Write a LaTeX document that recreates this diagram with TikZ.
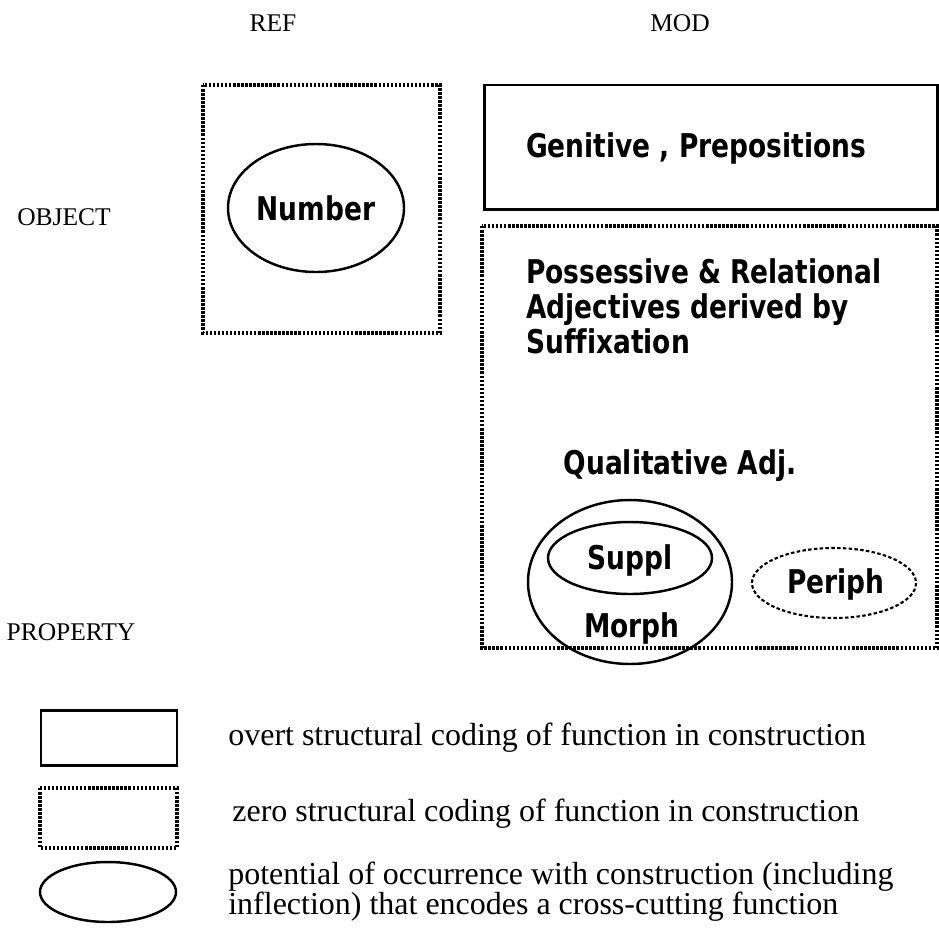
\documentclass[tikz,border=0pt]{standalone}
\usepackage{fontspec}
\setmainfont{Liberation Serif}
\newfontfamily\boldsans[FakeStretch=0.81, Ligatures=NoCommon]{DejaVu Sans}
\usetikzlibrary{positioning}

\tikzset{
  overt/.style={draw, line width=1.7pt},
  zero/.style={draw, line width=2pt, dash pattern=on 1.4pt off 0.9pt},
  potential/.style={draw, line width=1.4pt},
  periphery/.style={draw, line width=1.2pt, dash pattern=on 2pt off 1.3pt},
  cat/.style={font=\boldsans\bfseries\fontsize{18.6}{20}\selectfont},
  axis/.style={font=\fontsize{14.5}{17}\selectfont},
  legend/.style={font=\fontsize{18.2}{17}\selectfont, anchor=west, align=left, inner sep=0pt},
}

\begin{document}
\begin{tikzpicture}[x=0.02cm, y=-0.02cm]
\useasboundingbox (0,0) rectangle (939,927);

          % column and row heads
          \node[axis] (ref) at (273,23) {REF};
          \node[axis] (mod) at (680,23) {MOD};
          \node[axis] (object) at (64,217) {OBJECT};
          \node[axis] (property) at (71,632) {PROPERTY};

          % REF column
          \draw[zero] (203,85) rectangle (440,333);
          \draw[potential] (316,208) ellipse [x radius=88, y radius=64];
          \node[cat] (number) at (316,208) {Number};

          % MOD column
          \draw[overt] (484,85) rectangle (937,209);
          \node[cat, anchor=west] (genitive) at (520,148) {Genitive , Prepositions};
          \draw[zero] (482,226) rectangle (937,648);
          \node[cat, anchor=west, align=left] (possessive) at (520,306)
            {Possessive \& Relational\\Adjectives derived by\\Suffixation};
          \node[cat] (qualitative) at (680,466) {Qualitative Adj.};
          \draw[potential] (630,582) ellipse [x radius=102, y radius=82];
          \draw[potential] (630,558) ellipse [x radius=82, y radius=36];
          \node[cat] (suppl) at (630,560) {Suppl};
          \node[cat] (morph) at (632,628) {Morph};
          \draw[periphery] (834,583) ellipse [x radius=82, y radius=35];
          \node[cat] (periph) at (836,584) {Periph};

          % legend
          \draw[overt] (41,710) rectangle (177,765);
          \node[legend] (overtcode) at (228,738) {overt structural coding of function in construction};
          \draw[zero] (40,788) rectangle (177,848);
          \node[legend] (zerocode) at (232,814) {zero structural coding of function in construction};
          \draw[potential] (108,892) ellipse [x radius=68, y radius=30];
          \node[legend] (occurrence) at (228,892)
            {potential of occurrence with construction (including\\inflection) that encodes a cross-cutting function};
        \end{tikzpicture}
\end{document}
